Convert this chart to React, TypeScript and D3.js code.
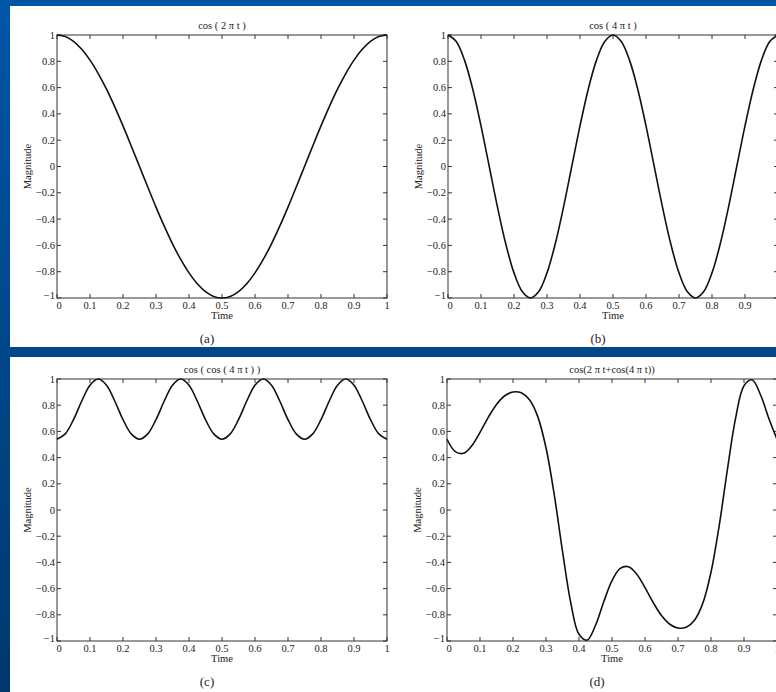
import React from "react";
import { scaleLinear, line, curveCatmullRom, range } from "d3";

// sample times, 0 .. 1 step 0.025
const times = range(41).map((i) => i / 40);

// values
const cos2pt = [
  1, 0.988, 0.951, 0.891, 0.809, 0.707, 0.588, 0.454, 0.309, 0.156, 0,
  -0.156, -0.309, -0.454, -0.588, -0.707, -0.809, -0.891, -0.951, -0.988, -1,
  -0.988, -0.951, -0.891, -0.809, -0.707, -0.588, -0.454, -0.309, -0.156, 0,
  0.156, 0.309, 0.454, 0.588, 0.707, 0.809, 0.891, 0.951, 0.988, 1,
];
const cos4pt = [
  1, 0.951, 0.809, 0.588, 0.309, 0, -0.309, -0.588, -0.809, -0.951, -1,
  -0.951, -0.809, -0.588, -0.309, 0, 0.309, 0.588, 0.809, 0.951, 1,
  0.951, 0.809, 0.588, 0.309, 0, -0.309, -0.588, -0.809, -0.951, -1,
  -0.951, -0.809, -0.588, -0.309, 0, 0.309, 0.588, 0.809, 0.951, 1,
];
const cosCos4pt = [
  0.54, 0.581, 0.69, 0.832, 0.953, 1, 0.953, 0.832, 0.69, 0.581, 0.54,
  0.581, 0.69, 0.832, 0.953, 1, 0.953, 0.832, 0.69, 0.581, 0.54,
  0.581, 0.69, 0.832, 0.953, 1, 0.953, 0.832, 0.69, 0.581, 0.54,
  0.581, 0.69, 0.832, 0.953, 1, 0.953, 0.832, 0.69, 0.581, 0.54,
];
const cosMixed = [
  0.54, 0.446, 0.433, 0.49, 0.592, 0.707, 0.806, 0.872, 0.901, 0.895, 0.841,
  0.713, 0.475, 0.117, -0.314, -0.707, -0.949, -0.993, -0.88, -0.701, -0.54,
  -0.446, -0.433, -0.49, -0.592, -0.707, -0.806, -0.872, -0.901, -0.895, -0.841,
  -0.713, -0.475, -0.117, 0.314, 0.707, 0.949, 0.993, 0.88, 0.701, 0.54,
];

const titles = ["cos ( 2 \u03c0 t )", "cos ( 4 \u03c0 t )", "cos ( cos ( 4 \u03c0 t ) )", "cos(2 \u03c0 t+cos(4 \u03c0 t))"];
const captions = ["(a)", "(b)", "(c)", "(d)"];
const series = [cos2pt, cos4pt, cosCos4pt, cosMixed];

const xTicks = range(11).map((i) => i / 10);
const yTicks = range(11).map((i) => -1 + i / 5);
const fmt = (v: number) => {
  const r = Math.round(v * 10) / 10;
  if (r === 0) return "0";
  const s = Math.abs(r) === 1 ? "1" : Math.abs(r).toFixed(1);
  return r < 0 ? "\u2212" + s : s;
};

const W = 776;
const H = 692;
const plotW = 330;
// panel boxes (left, top, height)
const layout = [
  { x: 57, y: 35, h: 263 },
  { x: 448, y: 35, h: 263 },
  { x: 57, y: 379, h: 262 },
  { x: 447, y: 379, h: 262 },
];
const font = "'Liberation Serif', 'DejaVu Serif', serif";

function Panel({ idx }: { idx: number }) {
  const { x, y, h } = layout[idx];
  const xs = scaleLinear().domain([0, 1]).range([0, plotW]);
  const ys = scaleLinear().domain([-1, 1]).range([h, 0]);
  const path = line<number>()
    .x((_, i) => xs(times[i]))
    .y((d) => ys(d))
    .curve(curveCatmullRom.alpha(0.5))(series[idx]);
  const tl = 4;
  return (
    <g transform={`translate(${x},${y})`} fontFamily={font} fill="#222">
      <text x={plotW / 2} y={-6} textAnchor="middle" fontSize={10.5}>
        {titles[idx]}
      </text>
      {xTicks.map((t) => (
        <g key={"x" + t}>
          <line x1={xs(t)} x2={xs(t)} y1={h} y2={h - tl} stroke="#333" />
          <line x1={xs(t)} x2={xs(t)} y1={0} y2={tl} stroke="#333" />
          <text x={xs(t) + (t === 0 ? 2 : 0)} y={h + 11} textAnchor="middle" fontSize={10.5}>
            {fmt(t)}
          </text>
        </g>
      ))}
      {yTicks.map((t) => (
        <g key={"y" + t}>
          <line x1={0} x2={tl} y1={ys(t)} y2={ys(t)} stroke="#333" />
          <line x1={plotW} x2={plotW - tl} y1={ys(t)} y2={ys(t)} stroke="#333" />
          <text x={-2} y={ys(t) + (t < -0.99 ? 1 : 3.5)} textAnchor="end" fontSize={10.5}>
            {fmt(t)}
          </text>
        </g>
      ))}
      <rect x={0} y={0} width={plotW} height={h} fill="none" stroke="#333" strokeWidth={1} />
      <path d={path ?? ""} fill="none" stroke="#111" strokeWidth={1.6} />
      <text x={plotW / 2} y={h + 21} textAnchor="middle" fontSize={10.5}>
        Time
      </text>
      <text
        transform={`translate(-26,${h / 2}) rotate(-90)`}
        textAnchor="middle"
        fontSize={10.5}
      >
        Magnitude
      </text>
      <text x={plotW / 2 - 15} y={h + 45} textAnchor="middle" fontSize={13}>
        {captions[idx]}
      </text>
    </g>
  );
}

export default function App() {
  return (
    <svg width={W} height={H} style={{ position: "absolute", left: 0, top: 0 }}>
      <defs>
        <linearGradient id="bg" x1="0" y1="0" x2="0" y2="1">
          <stop offset="0" stopColor="#0056a6" />
          <stop offset="1" stopColor="#00386e" />
        </linearGradient>
      </defs>
      <rect x={0} y={0} width={W} height={H} fill="url(#bg)" />
      <rect x={10} y={6} width={W - 10} height={341} fill="#fff" />
      <rect x={10} y={357} width={W - 10} height={H - 357} fill="#fff" />
      {series.map((_, i) => (
        <Panel key={i} idx={i} />
      ))}
    </svg>
  );
}
